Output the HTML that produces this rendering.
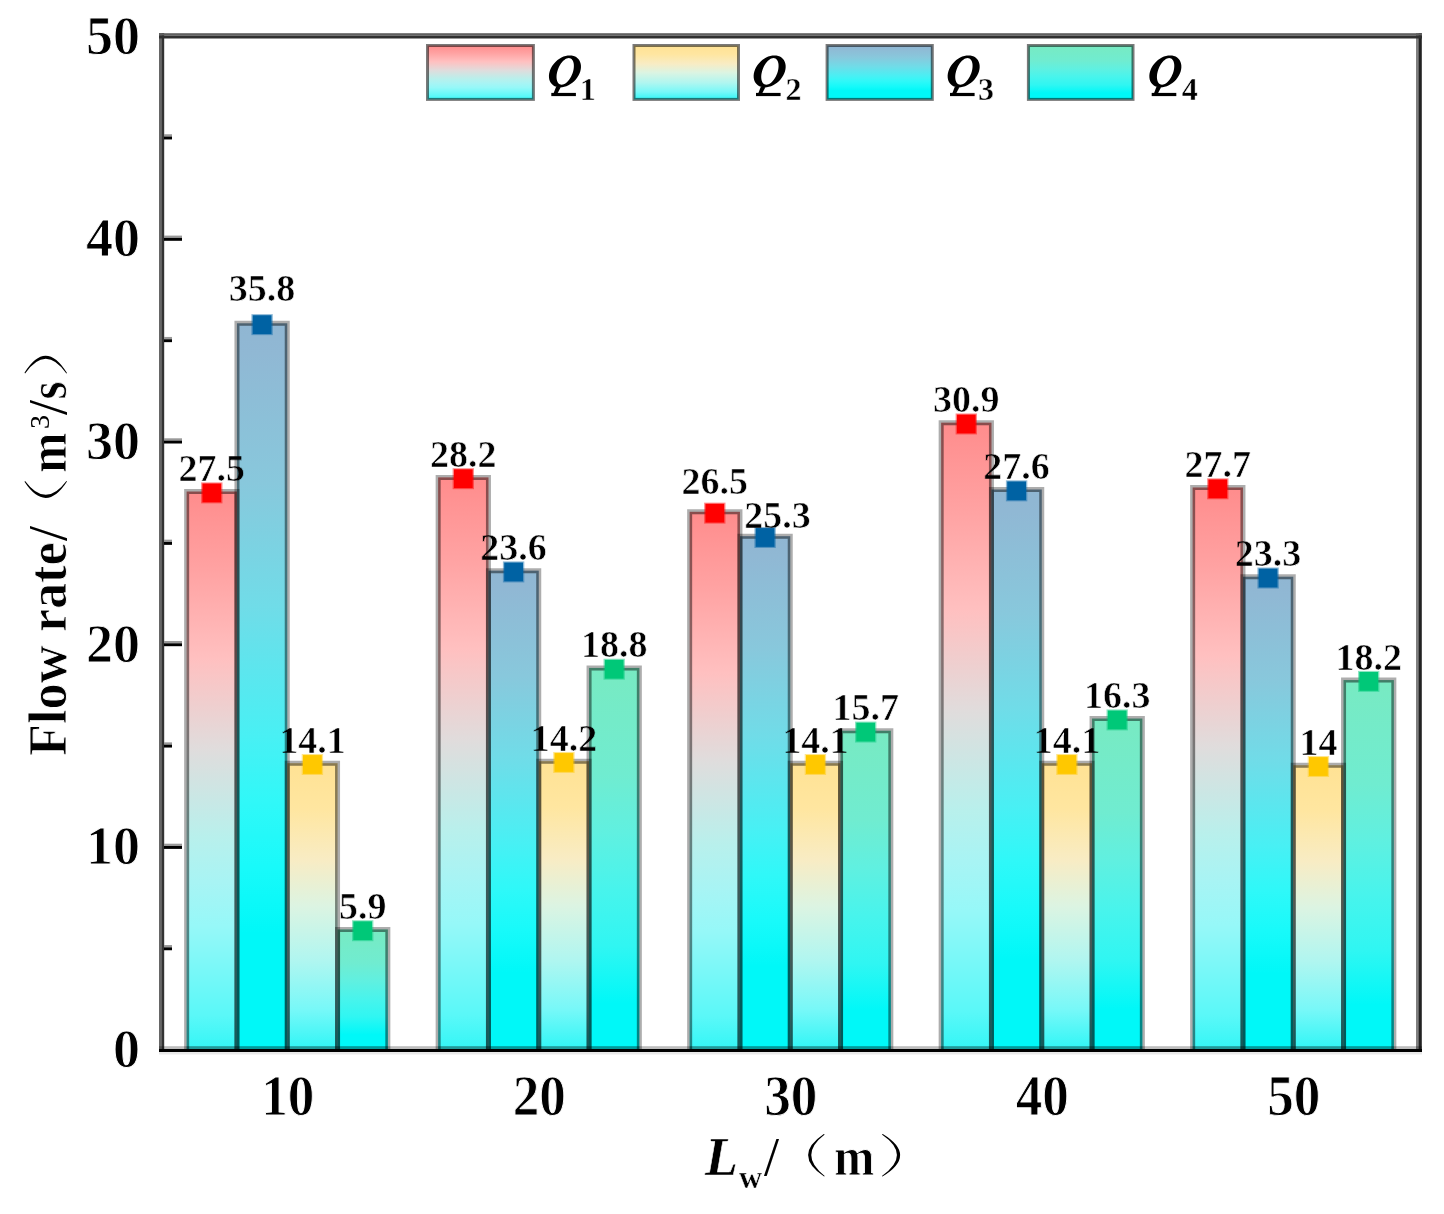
<!DOCTYPE html><html><head><meta charset="utf-8"><style>html,body{margin:0;padding:0;background:#fff;}svg{display:block;filter:blur(0.5px)}</style></head><body>
<svg width="1444" height="1214" viewBox="0 0 1444 1214">
<defs>
<linearGradient id="gq1" x1="0" y1="0" x2="0" y2="1">
<stop offset="0" stop-color="#ff8c8c"/>
<stop offset="0.14" stop-color="#ffa2a2"/>
<stop offset="0.3" stop-color="#ffc0c0"/>
<stop offset="0.46" stop-color="#e0dcdc"/>
<stop offset="0.62" stop-color="#b8f0ec"/>
<stop offset="0.7" stop-color="#a8f4f4"/>
<stop offset="0.78" stop-color="#96f8f8"/>
<stop offset="0.86" stop-color="#78f8f8"/>
<stop offset="0.94" stop-color="#5af8f8"/>
<stop offset="1" stop-color="#34f6f6"/>
</linearGradient>
<linearGradient id="gq3" x1="0" y1="0" x2="0" y2="1">
<stop offset="0" stop-color="#90b6d2"/>
<stop offset="0.04" stop-color="#90b8d4"/>
<stop offset="0.22" stop-color="#88c8dc"/>
<stop offset="0.39" stop-color="#70dce8"/>
<stop offset="0.57" stop-color="#48f0f4"/>
<stop offset="0.66" stop-color="#30f8f8"/>
<stop offset="0.75" stop-color="#18fafa"/>
<stop offset="0.84" stop-color="#00f8f8"/>
<stop offset="1" stop-color="#00f8f8"/>
</linearGradient>
<linearGradient id="gq2" x1="0" y1="0" x2="0" y2="1">
<stop offset="0" stop-color="#ffe294"/>
<stop offset="0.16" stop-color="#ffe6a0"/>
<stop offset="0.34" stop-color="#f8ecc4"/>
<stop offset="0.5" stop-color="#dcf4e2"/>
<stop offset="0.69" stop-color="#b0f6f0"/>
<stop offset="0.86" stop-color="#78f8f8"/>
<stop offset="1" stop-color="#30f6f6"/>
</linearGradient>
<linearGradient id="gq4" x1="0" y1="0" x2="0" y2="1">
<stop offset="0" stop-color="#78eac2"/>
<stop offset="0.28" stop-color="#70ecd0"/>
<stop offset="0.43" stop-color="#60f0e0"/>
<stop offset="0.58" stop-color="#48f4ec"/>
<stop offset="0.73" stop-color="#30f6f2"/>
<stop offset="0.88" stop-color="#00f8f8"/>
<stop offset="1" stop-color="#00f8f8"/>
</linearGradient>
</defs>
<rect width="1444" height="1214" fill="#fff"/>
<rect x="186.65" y="491.58" width="50.30" height="557.42" fill="url(#gq1)"/>
<rect x="236.95" y="323.33" width="50.30" height="725.67" fill="url(#gq3)"/>
<rect x="287.25" y="763.19" width="50.30" height="285.81" fill="url(#gq2)"/>
<rect x="337.55" y="929.41" width="50.30" height="119.59" fill="url(#gq4)"/>
<rect x="438.15" y="477.39" width="50.30" height="571.61" fill="url(#gq1)"/>
<rect x="488.45" y="570.63" width="50.30" height="478.37" fill="url(#gq3)"/>
<rect x="538.75" y="761.17" width="50.30" height="287.83" fill="url(#gq2)"/>
<rect x="589.05" y="667.92" width="50.30" height="381.08" fill="url(#gq4)"/>
<rect x="689.65" y="511.85" width="50.30" height="537.15" fill="url(#gq1)"/>
<rect x="739.95" y="536.17" width="50.30" height="512.83" fill="url(#gq3)"/>
<rect x="790.25" y="763.19" width="50.30" height="285.81" fill="url(#gq2)"/>
<rect x="840.55" y="730.76" width="50.30" height="318.24" fill="url(#gq4)"/>
<rect x="941.15" y="422.66" width="50.30" height="626.34" fill="url(#gq1)"/>
<rect x="991.45" y="489.55" width="50.30" height="559.45" fill="url(#gq3)"/>
<rect x="1041.75" y="763.19" width="50.30" height="285.81" fill="url(#gq2)"/>
<rect x="1092.05" y="718.60" width="50.30" height="330.40" fill="url(#gq4)"/>
<rect x="1192.65" y="487.52" width="50.30" height="561.48" fill="url(#gq1)"/>
<rect x="1242.95" y="576.71" width="50.30" height="472.29" fill="url(#gq3)"/>
<rect x="1293.25" y="765.22" width="50.30" height="283.78" fill="url(#gq2)"/>
<rect x="1343.55" y="680.09" width="50.30" height="368.91" fill="url(#gq4)"/>
<path d="M186.65,1049.00 L186.65,491.58 L236.95,491.58 L236.95,1049.00" fill="none" stroke="rgba(0,0,0,0.32)" stroke-width="5"/>
<path d="M187.90,1049.00 L187.90,492.83 L235.70,492.83 L235.70,1049.00" fill="none" stroke="rgba(0,0,0,0.2)" stroke-width="2.5"/>
<rect x="186.65" y="1046.2" width="50.30" height="2.8" fill="rgba(0,0,0,0.15)"/>
<path d="M236.95,1049.00 L236.95,323.33 L287.25,323.33 L287.25,1049.00" fill="none" stroke="rgba(0,0,0,0.32)" stroke-width="5"/>
<path d="M238.20,1049.00 L238.20,324.58 L286.00,324.58 L286.00,1049.00" fill="none" stroke="rgba(0,0,0,0.2)" stroke-width="2.5"/>
<rect x="236.95" y="1046.2" width="50.30" height="2.8" fill="rgba(0,0,0,0.15)"/>
<path d="M287.25,1049.00 L287.25,763.19 L337.55,763.19 L337.55,1049.00" fill="none" stroke="rgba(0,0,0,0.32)" stroke-width="5"/>
<path d="M288.50,1049.00 L288.50,764.44 L336.30,764.44 L336.30,1049.00" fill="none" stroke="rgba(0,0,0,0.2)" stroke-width="2.5"/>
<rect x="287.25" y="1046.2" width="50.30" height="2.8" fill="rgba(0,0,0,0.15)"/>
<path d="M337.55,1049.00 L337.55,929.41 L387.85,929.41 L387.85,1049.00" fill="none" stroke="rgba(0,0,0,0.32)" stroke-width="5"/>
<path d="M338.80,1049.00 L338.80,930.66 L386.60,930.66 L386.60,1049.00" fill="none" stroke="rgba(0,0,0,0.2)" stroke-width="2.5"/>
<rect x="337.55" y="1046.2" width="50.30" height="2.8" fill="rgba(0,0,0,0.15)"/>
<path d="M438.15,1049.00 L438.15,477.39 L488.45,477.39 L488.45,1049.00" fill="none" stroke="rgba(0,0,0,0.32)" stroke-width="5"/>
<path d="M439.40,1049.00 L439.40,478.64 L487.20,478.64 L487.20,1049.00" fill="none" stroke="rgba(0,0,0,0.2)" stroke-width="2.5"/>
<rect x="438.15" y="1046.2" width="50.30" height="2.8" fill="rgba(0,0,0,0.15)"/>
<path d="M488.45,1049.00 L488.45,570.63 L538.75,570.63 L538.75,1049.00" fill="none" stroke="rgba(0,0,0,0.32)" stroke-width="5"/>
<path d="M489.70,1049.00 L489.70,571.88 L537.50,571.88 L537.50,1049.00" fill="none" stroke="rgba(0,0,0,0.2)" stroke-width="2.5"/>
<rect x="488.45" y="1046.2" width="50.30" height="2.8" fill="rgba(0,0,0,0.15)"/>
<path d="M538.75,1049.00 L538.75,761.17 L589.05,761.17 L589.05,1049.00" fill="none" stroke="rgba(0,0,0,0.32)" stroke-width="5"/>
<path d="M540.00,1049.00 L540.00,762.42 L587.80,762.42 L587.80,1049.00" fill="none" stroke="rgba(0,0,0,0.2)" stroke-width="2.5"/>
<rect x="538.75" y="1046.2" width="50.30" height="2.8" fill="rgba(0,0,0,0.15)"/>
<path d="M589.05,1049.00 L589.05,667.92 L639.35,667.92 L639.35,1049.00" fill="none" stroke="rgba(0,0,0,0.32)" stroke-width="5"/>
<path d="M590.30,1049.00 L590.30,669.17 L638.10,669.17 L638.10,1049.00" fill="none" stroke="rgba(0,0,0,0.2)" stroke-width="2.5"/>
<rect x="589.05" y="1046.2" width="50.30" height="2.8" fill="rgba(0,0,0,0.15)"/>
<path d="M689.65,1049.00 L689.65,511.85 L739.95,511.85 L739.95,1049.00" fill="none" stroke="rgba(0,0,0,0.32)" stroke-width="5"/>
<path d="M690.90,1049.00 L690.90,513.10 L738.70,513.10 L738.70,1049.00" fill="none" stroke="rgba(0,0,0,0.2)" stroke-width="2.5"/>
<rect x="689.65" y="1046.2" width="50.30" height="2.8" fill="rgba(0,0,0,0.15)"/>
<path d="M739.95,1049.00 L739.95,536.17 L790.25,536.17 L790.25,1049.00" fill="none" stroke="rgba(0,0,0,0.32)" stroke-width="5"/>
<path d="M741.20,1049.00 L741.20,537.42 L789.00,537.42 L789.00,1049.00" fill="none" stroke="rgba(0,0,0,0.2)" stroke-width="2.5"/>
<rect x="739.95" y="1046.2" width="50.30" height="2.8" fill="rgba(0,0,0,0.15)"/>
<path d="M790.25,1049.00 L790.25,763.19 L840.55,763.19 L840.55,1049.00" fill="none" stroke="rgba(0,0,0,0.32)" stroke-width="5"/>
<path d="M791.50,1049.00 L791.50,764.44 L839.30,764.44 L839.30,1049.00" fill="none" stroke="rgba(0,0,0,0.2)" stroke-width="2.5"/>
<rect x="790.25" y="1046.2" width="50.30" height="2.8" fill="rgba(0,0,0,0.15)"/>
<path d="M840.55,1049.00 L840.55,730.76 L890.85,730.76 L890.85,1049.00" fill="none" stroke="rgba(0,0,0,0.32)" stroke-width="5"/>
<path d="M841.80,1049.00 L841.80,732.01 L889.60,732.01 L889.60,1049.00" fill="none" stroke="rgba(0,0,0,0.2)" stroke-width="2.5"/>
<rect x="840.55" y="1046.2" width="50.30" height="2.8" fill="rgba(0,0,0,0.15)"/>
<path d="M941.15,1049.00 L941.15,422.66 L991.45,422.66 L991.45,1049.00" fill="none" stroke="rgba(0,0,0,0.32)" stroke-width="5"/>
<path d="M942.40,1049.00 L942.40,423.91 L990.20,423.91 L990.20,1049.00" fill="none" stroke="rgba(0,0,0,0.2)" stroke-width="2.5"/>
<rect x="941.15" y="1046.2" width="50.30" height="2.8" fill="rgba(0,0,0,0.15)"/>
<path d="M991.45,1049.00 L991.45,489.55 L1041.75,489.55 L1041.75,1049.00" fill="none" stroke="rgba(0,0,0,0.32)" stroke-width="5"/>
<path d="M992.70,1049.00 L992.70,490.80 L1040.50,490.80 L1040.50,1049.00" fill="none" stroke="rgba(0,0,0,0.2)" stroke-width="2.5"/>
<rect x="991.45" y="1046.2" width="50.30" height="2.8" fill="rgba(0,0,0,0.15)"/>
<path d="M1041.75,1049.00 L1041.75,763.19 L1092.05,763.19 L1092.05,1049.00" fill="none" stroke="rgba(0,0,0,0.32)" stroke-width="5"/>
<path d="M1043.00,1049.00 L1043.00,764.44 L1090.80,764.44 L1090.80,1049.00" fill="none" stroke="rgba(0,0,0,0.2)" stroke-width="2.5"/>
<rect x="1041.75" y="1046.2" width="50.30" height="2.8" fill="rgba(0,0,0,0.15)"/>
<path d="M1092.05,1049.00 L1092.05,718.60 L1142.35,718.60 L1142.35,1049.00" fill="none" stroke="rgba(0,0,0,0.32)" stroke-width="5"/>
<path d="M1093.30,1049.00 L1093.30,719.85 L1141.10,719.85 L1141.10,1049.00" fill="none" stroke="rgba(0,0,0,0.2)" stroke-width="2.5"/>
<rect x="1092.05" y="1046.2" width="50.30" height="2.8" fill="rgba(0,0,0,0.15)"/>
<path d="M1192.65,1049.00 L1192.65,487.52 L1242.95,487.52 L1242.95,1049.00" fill="none" stroke="rgba(0,0,0,0.32)" stroke-width="5"/>
<path d="M1193.90,1049.00 L1193.90,488.77 L1241.70,488.77 L1241.70,1049.00" fill="none" stroke="rgba(0,0,0,0.2)" stroke-width="2.5"/>
<rect x="1192.65" y="1046.2" width="50.30" height="2.8" fill="rgba(0,0,0,0.15)"/>
<path d="M1242.95,1049.00 L1242.95,576.71 L1293.25,576.71 L1293.25,1049.00" fill="none" stroke="rgba(0,0,0,0.32)" stroke-width="5"/>
<path d="M1244.20,1049.00 L1244.20,577.96 L1292.00,577.96 L1292.00,1049.00" fill="none" stroke="rgba(0,0,0,0.2)" stroke-width="2.5"/>
<rect x="1242.95" y="1046.2" width="50.30" height="2.8" fill="rgba(0,0,0,0.15)"/>
<path d="M1293.25,1049.00 L1293.25,765.22 L1343.55,765.22 L1343.55,1049.00" fill="none" stroke="rgba(0,0,0,0.32)" stroke-width="5"/>
<path d="M1294.50,1049.00 L1294.50,766.47 L1342.30,766.47 L1342.30,1049.00" fill="none" stroke="rgba(0,0,0,0.2)" stroke-width="2.5"/>
<rect x="1293.25" y="1046.2" width="50.30" height="2.8" fill="rgba(0,0,0,0.15)"/>
<path d="M1343.55,1049.00 L1343.55,680.09 L1393.85,680.09 L1393.85,1049.00" fill="none" stroke="rgba(0,0,0,0.32)" stroke-width="5"/>
<path d="M1344.80,1049.00 L1344.80,681.34 L1392.60,681.34 L1392.60,1049.00" fill="none" stroke="rgba(0,0,0,0.2)" stroke-width="2.5"/>
<rect x="1343.55" y="1046.2" width="50.30" height="2.8" fill="rgba(0,0,0,0.15)"/>
<rect x="159" y="33" width="2.3" height="1019" fill="#666"/>
<rect x="161.3" y="33" width="2.9" height="1019" fill="#333"/>
<rect x="1416" y="33" width="2.4" height="1019" fill="#808080"/>
<rect x="1418.4" y="33" width="3.4" height="1019" fill="#222"/>
<rect x="159" y="33.2" width="1263" height="2.4" fill="#606060"/>
<rect x="159" y="35.6" width="1263" height="2.9" fill="#303030"/>
<rect x="159" y="1046.2" width="1263" height="2.8" fill="rgba(0,0,0,0.26)"/>
<rect x="159" y="1049" width="1263" height="3" fill="#000"/>
<rect x="159" y="1052" width="1263" height="2.5" fill="rgba(0,0,0,0.09)"/>
<rect x="164" y="945.05" width="8" height="2.3" fill="#999"/>
<rect x="164" y="947.35" width="8" height="2.9" fill="#000"/>
<rect x="164" y="843.70" width="18" height="2.3" fill="#999"/>
<rect x="164" y="846.00" width="18" height="2.9" fill="#000"/>
<rect x="164" y="742.35" width="8" height="2.3" fill="#999"/>
<rect x="164" y="744.65" width="8" height="2.9" fill="#000"/>
<rect x="164" y="641.00" width="18" height="2.3" fill="#999"/>
<rect x="164" y="643.30" width="18" height="2.9" fill="#000"/>
<rect x="164" y="539.65" width="8" height="2.3" fill="#999"/>
<rect x="164" y="541.95" width="8" height="2.9" fill="#000"/>
<rect x="164" y="438.30" width="18" height="2.3" fill="#999"/>
<rect x="164" y="440.60" width="18" height="2.9" fill="#000"/>
<rect x="164" y="336.95" width="8" height="2.3" fill="#999"/>
<rect x="164" y="339.25" width="8" height="2.9" fill="#000"/>
<rect x="164" y="235.60" width="18" height="2.3" fill="#999"/>
<rect x="164" y="237.90" width="18" height="2.9" fill="#000"/>
<rect x="164" y="134.25" width="8" height="2.3" fill="#999"/>
<rect x="164" y="136.55" width="8" height="2.9" fill="#000"/>
<rect x="201.10" y="482.38" width="21.4" height="21" fill="#ff0000" fill-opacity="0.45"/>
<rect x="202.40" y="483.48" width="18.8" height="18.8" fill="#ff0000"/>
<rect x="251.40" y="314.13" width="21.4" height="21" fill="#0062a3" fill-opacity="0.45"/>
<rect x="252.70" y="315.23" width="18.8" height="18.8" fill="#0062a3"/>
<rect x="301.70" y="753.99" width="21.4" height="21" fill="#ffc800" fill-opacity="0.45"/>
<rect x="303.00" y="755.09" width="18.8" height="18.8" fill="#ffc800"/>
<rect x="352.00" y="920.21" width="21.4" height="21" fill="#00c878" fill-opacity="0.45"/>
<rect x="353.30" y="921.31" width="18.8" height="18.8" fill="#00c878"/>
<rect x="452.60" y="468.19" width="21.4" height="21" fill="#ff0000" fill-opacity="0.45"/>
<rect x="453.90" y="469.29" width="18.8" height="18.8" fill="#ff0000"/>
<rect x="502.90" y="561.43" width="21.4" height="21" fill="#0062a3" fill-opacity="0.45"/>
<rect x="504.20" y="562.53" width="18.8" height="18.8" fill="#0062a3"/>
<rect x="553.20" y="751.97" width="21.4" height="21" fill="#ffc800" fill-opacity="0.45"/>
<rect x="554.50" y="753.07" width="18.8" height="18.8" fill="#ffc800"/>
<rect x="603.50" y="658.72" width="21.4" height="21" fill="#00c878" fill-opacity="0.45"/>
<rect x="604.80" y="659.82" width="18.8" height="18.8" fill="#00c878"/>
<rect x="704.10" y="502.64" width="21.4" height="21" fill="#ff0000" fill-opacity="0.45"/>
<rect x="705.40" y="503.75" width="18.8" height="18.8" fill="#ff0000"/>
<rect x="754.40" y="526.97" width="21.4" height="21" fill="#0062a3" fill-opacity="0.45"/>
<rect x="755.70" y="528.07" width="18.8" height="18.8" fill="#0062a3"/>
<rect x="804.70" y="753.99" width="21.4" height="21" fill="#ffc800" fill-opacity="0.45"/>
<rect x="806.00" y="755.09" width="18.8" height="18.8" fill="#ffc800"/>
<rect x="855.00" y="721.56" width="21.4" height="21" fill="#00c878" fill-opacity="0.45"/>
<rect x="856.30" y="722.66" width="18.8" height="18.8" fill="#00c878"/>
<rect x="955.60" y="413.46" width="21.4" height="21" fill="#ff0000" fill-opacity="0.45"/>
<rect x="956.90" y="414.56" width="18.8" height="18.8" fill="#ff0000"/>
<rect x="1005.90" y="480.35" width="21.4" height="21" fill="#0062a3" fill-opacity="0.45"/>
<rect x="1007.20" y="481.45" width="18.8" height="18.8" fill="#0062a3"/>
<rect x="1056.20" y="753.99" width="21.4" height="21" fill="#ffc800" fill-opacity="0.45"/>
<rect x="1057.50" y="755.09" width="18.8" height="18.8" fill="#ffc800"/>
<rect x="1106.50" y="709.40" width="21.4" height="21" fill="#00c878" fill-opacity="0.45"/>
<rect x="1107.80" y="710.50" width="18.8" height="18.8" fill="#00c878"/>
<rect x="1207.10" y="478.32" width="21.4" height="21" fill="#ff0000" fill-opacity="0.45"/>
<rect x="1208.40" y="479.42" width="18.8" height="18.8" fill="#ff0000"/>
<rect x="1257.40" y="567.51" width="21.4" height="21" fill="#0062a3" fill-opacity="0.45"/>
<rect x="1258.70" y="568.61" width="18.8" height="18.8" fill="#0062a3"/>
<rect x="1307.70" y="756.02" width="21.4" height="21" fill="#ffc800" fill-opacity="0.45"/>
<rect x="1309.00" y="757.12" width="18.8" height="18.8" fill="#ffc800"/>
<rect x="1358.00" y="670.89" width="21.4" height="21" fill="#00c878" fill-opacity="0.45"/>
<rect x="1359.30" y="671.99" width="18.8" height="18.8" fill="#00c878"/>
<rect x="427.5" y="45.5" width="105.9" height="53.9" fill="url(#gq1)" stroke="rgba(0,0,0,0.52)" stroke-width="3"/>
<path d="M580.25,71.40 L579.49,73.49 L578.49,75.54 L577.25,77.52 L575.80,79.40 L574.17,81.14 L572.37,82.71 L570.46,84.09 L568.44,85.26 L566.37,86.18 L564.27,86.85 L562.19,87.26 L560.15,87.40 L558.19,87.26 L556.35,86.85 L554.66,86.18 L553.14,85.26 L551.83,84.09 L550.74,82.71 L549.89,81.14 L549.30,79.40 L548.98,77.52 L548.93,75.54 L549.15,73.49 L549.65,71.40 L550.41,69.31 L551.41,67.26 L552.65,65.28 L554.10,63.40 L555.73,61.66 L557.53,60.09 L559.44,58.71 L561.46,57.54 L563.53,56.62 L565.63,55.95 L567.71,55.54 L569.75,55.40 L571.71,55.54 L573.55,55.95 L575.24,56.62 L576.76,57.54 L578.07,58.71 L579.16,60.09 L580.01,61.66 L580.60,63.40 L580.92,65.28 L580.97,67.26 L580.75,69.31 Z M573.10,71.40 L572.56,73.14 L571.90,74.84 L571.12,76.49 L570.25,78.05 L569.28,79.50 L568.25,80.80 L567.16,81.95 L566.04,82.92 L564.91,83.69 L563.78,84.25 L562.67,84.59 L561.61,84.70 L560.61,84.59 L559.69,84.25 L558.86,83.69 L558.14,82.92 L557.54,81.95 L557.07,80.80 L556.75,79.50 L556.56,78.05 L556.53,76.49 L556.64,74.84 L556.90,73.14 L557.30,71.40 L557.84,69.66 L558.50,67.96 L559.28,66.31 L560.15,64.75 L561.12,63.30 L562.15,62.00 L563.24,60.85 L564.36,59.88 L565.49,59.11 L566.62,58.55 L567.73,58.21 L568.79,58.10 L569.79,58.21 L570.71,58.55 L571.54,59.11 L572.26,59.88 L572.86,60.85 L573.33,62.00 L573.65,63.30 L573.84,64.75 L573.87,66.31 L573.76,67.96 L573.50,69.66 Z" fill="#000" fill-rule="evenodd"/>
<rect x="551.30" y="92.9" width="24.6" height="3.2" fill="#000"/>
<path d="M556.20,86.5 L560.70,87.3 L557.70,93 L553.70,93 Z" fill="#000"/>
<rect x="634.0" y="45.5" width="104.5" height="53.9" fill="url(#gq2)" stroke="rgba(0,0,0,0.52)" stroke-width="3"/>
<path d="M784.95,71.40 L784.19,73.49 L783.19,75.54 L781.95,77.52 L780.50,79.40 L778.87,81.14 L777.07,82.71 L775.16,84.09 L773.14,85.26 L771.07,86.18 L768.97,86.85 L766.89,87.26 L764.85,87.40 L762.89,87.26 L761.05,86.85 L759.36,86.18 L757.84,85.26 L756.53,84.09 L755.44,82.71 L754.59,81.14 L754.00,79.40 L753.68,77.52 L753.63,75.54 L753.85,73.49 L754.35,71.40 L755.11,69.31 L756.11,67.26 L757.35,65.28 L758.80,63.40 L760.43,61.66 L762.23,60.09 L764.14,58.71 L766.16,57.54 L768.23,56.62 L770.33,55.95 L772.41,55.54 L774.45,55.40 L776.41,55.54 L778.25,55.95 L779.94,56.62 L781.46,57.54 L782.77,58.71 L783.86,60.09 L784.71,61.66 L785.30,63.40 L785.62,65.28 L785.67,67.26 L785.45,69.31 Z M777.80,71.40 L777.26,73.14 L776.60,74.84 L775.82,76.49 L774.95,78.05 L773.98,79.50 L772.95,80.80 L771.86,81.95 L770.74,82.92 L769.61,83.69 L768.48,84.25 L767.37,84.59 L766.31,84.70 L765.31,84.59 L764.39,84.25 L763.56,83.69 L762.84,82.92 L762.24,81.95 L761.77,80.80 L761.45,79.50 L761.26,78.05 L761.23,76.49 L761.34,74.84 L761.60,73.14 L762.00,71.40 L762.54,69.66 L763.20,67.96 L763.98,66.31 L764.85,64.75 L765.82,63.30 L766.85,62.00 L767.94,60.85 L769.06,59.88 L770.19,59.11 L771.32,58.55 L772.43,58.21 L773.49,58.10 L774.49,58.21 L775.41,58.55 L776.24,59.11 L776.96,59.88 L777.56,60.85 L778.03,62.00 L778.35,63.30 L778.54,64.75 L778.57,66.31 L778.46,67.96 L778.20,69.66 Z" fill="#000" fill-rule="evenodd"/>
<rect x="756.00" y="92.9" width="24.6" height="3.2" fill="#000"/>
<path d="M760.90,86.5 L765.40,87.3 L762.40,93 L758.40,93 Z" fill="#000"/>
<rect x="827.1" y="45.5" width="105.2" height="53.9" fill="url(#gq3)" stroke="rgba(0,0,0,0.52)" stroke-width="3"/>
<path d="M978.95,71.40 L978.19,73.49 L977.19,75.54 L975.95,77.52 L974.50,79.40 L972.87,81.14 L971.07,82.71 L969.16,84.09 L967.14,85.26 L965.07,86.18 L962.97,86.85 L960.89,87.26 L958.85,87.40 L956.89,87.26 L955.05,86.85 L953.36,86.18 L951.84,85.26 L950.53,84.09 L949.44,82.71 L948.59,81.14 L948.00,79.40 L947.68,77.52 L947.63,75.54 L947.85,73.49 L948.35,71.40 L949.11,69.31 L950.11,67.26 L951.35,65.28 L952.80,63.40 L954.43,61.66 L956.23,60.09 L958.14,58.71 L960.16,57.54 L962.23,56.62 L964.33,55.95 L966.41,55.54 L968.45,55.40 L970.41,55.54 L972.25,55.95 L973.94,56.62 L975.46,57.54 L976.77,58.71 L977.86,60.09 L978.71,61.66 L979.30,63.40 L979.62,65.28 L979.67,67.26 L979.45,69.31 Z M971.80,71.40 L971.26,73.14 L970.60,74.84 L969.82,76.49 L968.95,78.05 L967.98,79.50 L966.95,80.80 L965.86,81.95 L964.74,82.92 L963.61,83.69 L962.48,84.25 L961.37,84.59 L960.31,84.70 L959.31,84.59 L958.39,84.25 L957.56,83.69 L956.84,82.92 L956.24,81.95 L955.77,80.80 L955.45,79.50 L955.26,78.05 L955.23,76.49 L955.34,74.84 L955.60,73.14 L956.00,71.40 L956.54,69.66 L957.20,67.96 L957.98,66.31 L958.85,64.75 L959.82,63.30 L960.85,62.00 L961.94,60.85 L963.06,59.88 L964.19,59.11 L965.32,58.55 L966.43,58.21 L967.49,58.10 L968.49,58.21 L969.41,58.55 L970.24,59.11 L970.96,59.88 L971.56,60.85 L972.03,62.00 L972.35,63.30 L972.54,64.75 L972.57,66.31 L972.46,67.96 L972.20,69.66 Z" fill="#000" fill-rule="evenodd"/>
<rect x="950.00" y="92.9" width="24.6" height="3.2" fill="#000"/>
<path d="M954.90,86.5 L959.40,87.3 L956.40,93 L952.40,93 Z" fill="#000"/>
<rect x="1028.4" y="45.5" width="104.6" height="53.9" fill="url(#gq4)" stroke="rgba(0,0,0,0.52)" stroke-width="3"/>
<path d="M1180.65,71.40 L1179.89,73.49 L1178.89,75.54 L1177.65,77.52 L1176.20,79.40 L1174.57,81.14 L1172.77,82.71 L1170.86,84.09 L1168.84,85.26 L1166.77,86.18 L1164.67,86.85 L1162.59,87.26 L1160.55,87.40 L1158.59,87.26 L1156.75,86.85 L1155.06,86.18 L1153.54,85.26 L1152.23,84.09 L1151.14,82.71 L1150.29,81.14 L1149.70,79.40 L1149.38,77.52 L1149.33,75.54 L1149.55,73.49 L1150.05,71.40 L1150.81,69.31 L1151.81,67.26 L1153.05,65.28 L1154.50,63.40 L1156.13,61.66 L1157.93,60.09 L1159.84,58.71 L1161.86,57.54 L1163.93,56.62 L1166.03,55.95 L1168.11,55.54 L1170.15,55.40 L1172.11,55.54 L1173.95,55.95 L1175.64,56.62 L1177.16,57.54 L1178.47,58.71 L1179.56,60.09 L1180.41,61.66 L1181.00,63.40 L1181.32,65.28 L1181.37,67.26 L1181.15,69.31 Z M1173.50,71.40 L1172.96,73.14 L1172.30,74.84 L1171.52,76.49 L1170.65,78.05 L1169.68,79.50 L1168.65,80.80 L1167.56,81.95 L1166.44,82.92 L1165.31,83.69 L1164.18,84.25 L1163.07,84.59 L1162.01,84.70 L1161.01,84.59 L1160.09,84.25 L1159.26,83.69 L1158.54,82.92 L1157.94,81.95 L1157.47,80.80 L1157.15,79.50 L1156.96,78.05 L1156.93,76.49 L1157.04,74.84 L1157.30,73.14 L1157.70,71.40 L1158.24,69.66 L1158.90,67.96 L1159.68,66.31 L1160.55,64.75 L1161.52,63.30 L1162.55,62.00 L1163.64,60.85 L1164.76,59.88 L1165.89,59.11 L1167.02,58.55 L1168.13,58.21 L1169.19,58.10 L1170.19,58.21 L1171.11,58.55 L1171.94,59.11 L1172.66,59.88 L1173.26,60.85 L1173.73,62.00 L1174.05,63.30 L1174.24,64.75 L1174.27,66.31 L1174.16,67.96 L1173.90,69.66 Z" fill="#000" fill-rule="evenodd"/>
<rect x="1151.70" y="92.9" width="24.6" height="3.2" fill="#000"/>
<path d="M1156.60,86.5 L1161.10,87.3 L1158.10,93 L1154.10,93 Z" fill="#000"/>
<path d="M823.80,1134.00 Q792.20,1155.25 824.10,1176.50 L824.70,1175.90 Q797.80,1155.25 824.70,1134.60 Z" fill="#000"/>
<path d="M882.80,1134.00 Q917.60,1155.25 882.50,1176.50 L881.90,1175.90 Q912.00,1155.25 881.90,1134.60 Z" fill="#000"/>
<g transform="translate(65.5,756) rotate(-90)">
<path d="M274.20,-41.00 Q241.80,-19.75 274.50,1.50 L275.10,0.90 Q247.40,-19.75 275.10,-40.40 Z" fill="#000"/>
<path d="M383.30,-41.00 Q417.50,-19.75 383.00,1.50 L382.40,0.90 Q411.90,-19.75 382.40,-40.40 Z" fill="#000"/>
</g>
<mask id="tm" maskUnits="userSpaceOnUse" x="0" y="0" width="1444" height="1214"><g fill="#fff" stroke="#000" stroke-linejoin="round">
<g font-family="Liberation Serif" font-weight="bold" font-size="38" text-anchor="middle" stroke-width="0.7">
<text x="211.80" y="481.08">27.5</text>
<text x="262.10" y="301.30">35.8</text>
<text x="312.40" y="752.69">14.1</text>
<text x="362.70" y="918.91">5.9</text>
<text x="463.30" y="466.89">28.2</text>
<text x="513.60" y="560.13">23.6</text>
<text x="563.90" y="750.67">14.2</text>
<text x="614.20" y="657.42">18.8</text>
<text x="714.80" y="493.50">26.5</text>
<text x="777.50" y="527.80">25.3</text>
<text x="815.40" y="752.69">14.1</text>
<text x="865.70" y="720.26">15.7</text>
<text x="966.30" y="412.16">30.9</text>
<text x="1016.60" y="479.05">27.6</text>
<text x="1066.90" y="752.69">14.1</text>
<text x="1117.20" y="708.10">16.3</text>
<text x="1217.80" y="477.02">27.7</text>
<text x="1268.10" y="566.21">23.3</text>
<text x="1318.40" y="754.72">14</text>
<text x="1368.70" y="669.59">18.2</text>
</g>
<g font-family="Liberation Serif" font-weight="bold" font-size="54" text-anchor="end" stroke-width="1.0">
<text x="140" y="1067.00">0</text>
<text x="140" y="864.30">10</text>
<text x="140" y="661.60">20</text>
<text x="140" y="458.90">30</text>
<text x="140" y="256.20">40</text>
<text x="140" y="53.50">50</text>
</g>
<g font-family="Liberation Serif" font-weight="bold" font-size="56" text-anchor="middle" stroke-width="1.0">
<text transform="translate(287.75,1114.6) scale(0.95,1)" x="0" y="0">10</text>
<text transform="translate(539.25,1114.6) scale(0.95,1)" x="0" y="0">20</text>
<text transform="translate(790.75,1114.6) scale(0.95,1)" x="0" y="0">30</text>
<text transform="translate(1042.25,1114.6) scale(0.95,1)" x="0" y="0">40</text>
<text transform="translate(1293.75,1114.6) scale(0.95,1)" x="0" y="0">50</text>
</g>
<text x="579.70" y="100.3" font-family="Liberation Serif" font-weight="bold" font-size="32" stroke-width="0.5">1</text>
<text x="785.50" y="100.3" font-family="Liberation Serif" font-weight="bold" font-size="32" stroke-width="0.5">2</text>
<text x="978.10" y="100.3" font-family="Liberation Serif" font-weight="bold" font-size="32" stroke-width="0.5">3</text>
<text x="1181.70" y="100.3" font-family="Liberation Serif" font-weight="bold" font-size="32" stroke-width="0.5">4</text>
<g font-family="Liberation Serif" stroke-width="1.0">
<text x="705" y="1175" font-size="54" font-weight="bold" font-style="italic" stroke-width="0.6">L</text>
<text x="739" y="1188" font-size="32" font-weight="bold" stroke-width="0.5">w</text>
<text x="764" y="1175" font-size="54" stroke="none">/</text>
<text transform="translate(834,1175) scale(0.9,1)" x="0" y="0" font-size="54" font-weight="bold">m</text>
</g>
<g transform="translate(65.5,756) rotate(-90)" font-family="Liberation Serif" stroke-width="1.0">
<text transform="scale(0.97,1)" x="0" y="0" font-size="54" font-weight="bold">Flow rate</text>
<text x="215" y="0" font-size="54" stroke="none">/</text>
<text transform="translate(283,0) scale(0.9,1)" x="0" y="0" font-size="54" font-weight="bold">m</text>
<text x="327" y="-17" font-size="28" stroke="none">3</text>
<text x="341" y="0" font-size="54" stroke="none">/</text>
<text transform="translate(356.5,0) scale(0.86,1)" x="0" y="0" font-size="54" font-weight="bold">s</text>
</g>
</g></mask>
<rect x="0" y="0" width="1444" height="1214" fill="#000" mask="url(#tm)"/>
</svg></body></html>
